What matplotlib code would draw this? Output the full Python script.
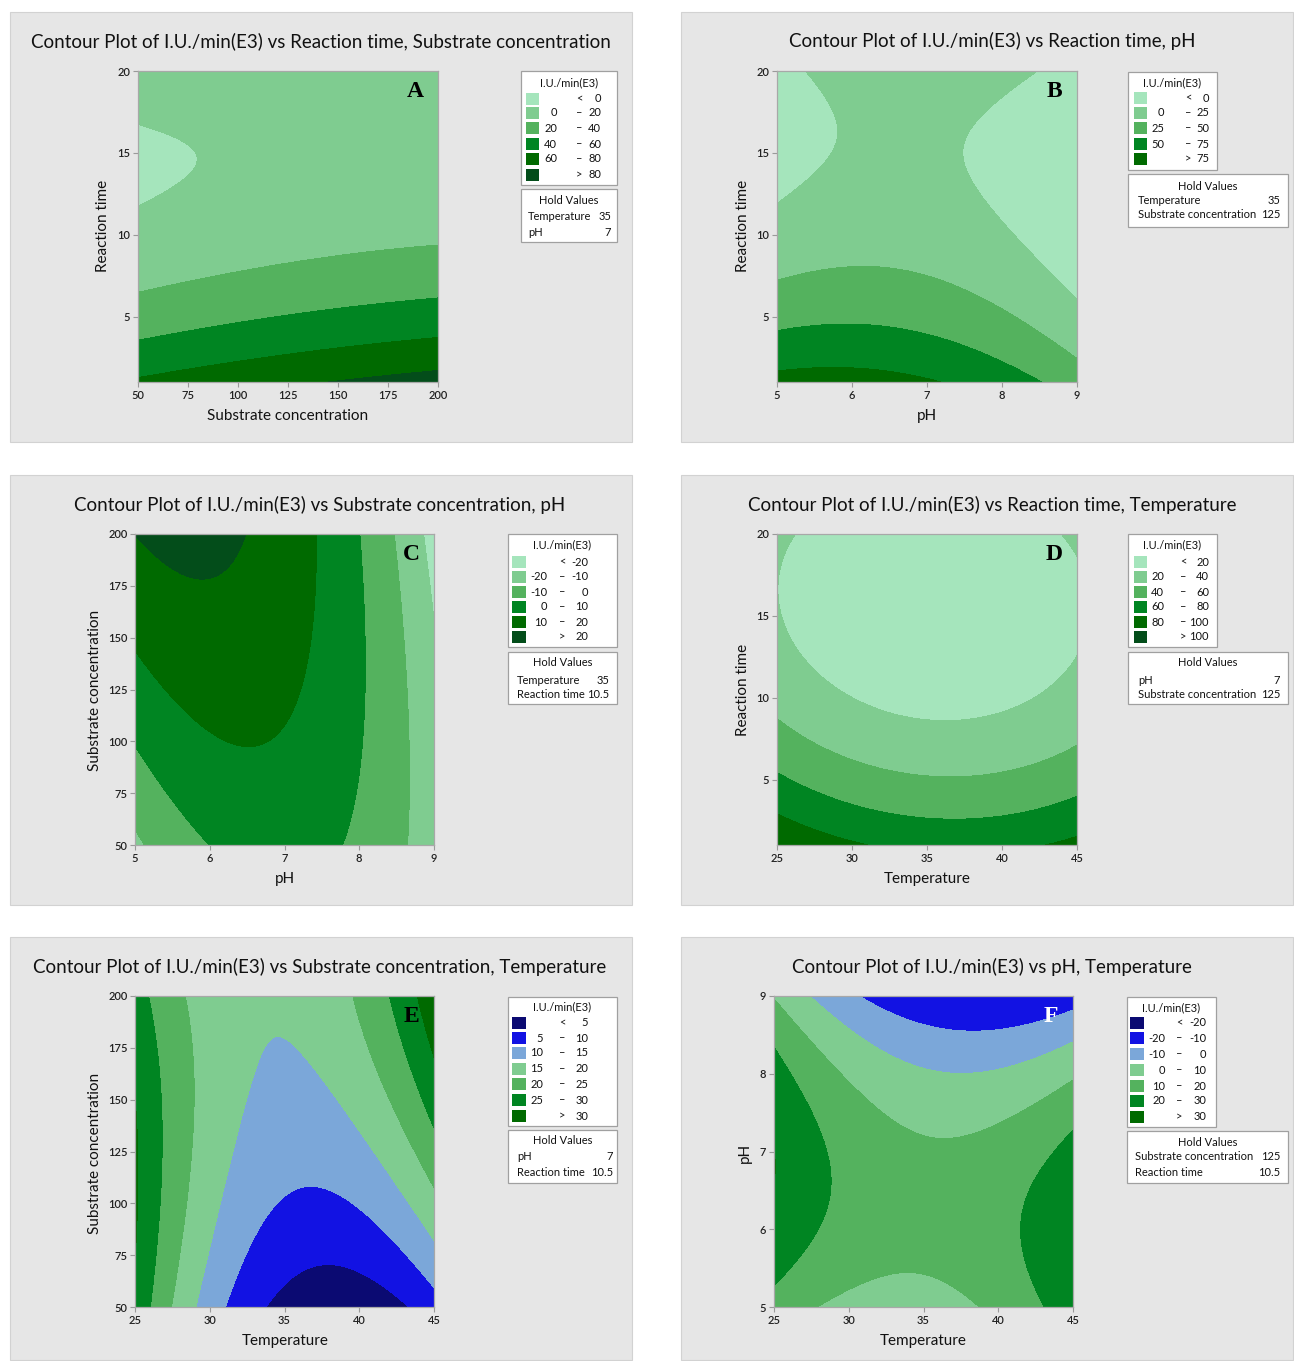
import numpy as np
import matplotlib
matplotlib.use("Agg")
import matplotlib.pyplot as plt
from matplotlib.patches import Rectangle

W, H = 1294, 1361
fig = plt.figure(figsize=(W / 100, H / 100), dpi=100)
plt.rcParams['font.family'] = ['Lato', 'DejaVu Sans']

# ---------------- data ----------------
# Fitted quadratic response surfaces, in coded units
# (u, v in [-1, 1] across each axis):  z = b0 + b1 u + b2 v + b11 u^2 + b22 v^2 + b12 u v
coefA = [10.450, 5.979, -32.867, -1.603, 33.416, -6.569]     # Substrate conc. (x) / Reaction time (y)
coefB = [11.160, -11.878, -33.471, -17.220, 32.593, 10.604]  # pH (x) / Reaction time (y)
coefC = [11.508, -11.989, 6.048, -17.364, -2.075, -9.998]    # pH (x) / Substrate conc. (y)
coefD = [12.311, -3.400, -33.881, 16.400, 28.723, 3.112]     # Temperature (x) / Reaction time (y)
coefE = [11.935, -3.742, 5.998, 14.926, -2.455, 6.841]       # Temperature (x) / Substrate conc. (y)
coefF = [11.402, -3.470, -11.981, 15.226, -17.432, -8.617]   # Temperature (x) / pH (y)

levelsA = [0, 20, 40, 60, 80]
levelsB = [0, 25, 50, 75]
levelsC = [-20, -10, 0, 10, 20]
levelsD = [20, 40, 60, 80, 100]
levelsE = [5, 10, 15, 20, 25, 30]
levelsF = [-20, -10, 0, 10, 20, 30]

G1, G2, G3, G4, G5, G6 = '#a5e5bc', '#7fcc90', '#54b25e', '#008522', '#006a00', '#034d1a'
NAVY, BLUE, LBLUE = '#0b0a72', '#1212e3', '#7ba7d9'


def px(x, y):
    return x / W, 1 - y / H


def ftext(x, y, s, **kw):
    fig.text(x / W, 1 - y / H, s, **kw)


panels = [
    dict(coef=coefA, levels=levelsA, colors=[G1, G2, G3, G4, G5, G6], letter='A', lcol='black',
         rect=(10, 12, 632, 442), ax=(138, 71, 438, 382),
         title='Contour Plot of I.U./min(E3) vs Reaction time, Substrate concentration', tx=321, ty=41,
         xlabel='Substrate concentration', ylabel='Reaction time', xl=(288, 416), yl=(103, 226),
         xlim=(50, 200), ylim=(1, 20), xticks=[50, 75, 100, 125, 150, 175, 200], yticks=[5, 10, 15, 20],
         leg=dict(box=(521, 71, 617, 185), ty=83, rows=[99, 113, 128, 144, 159, 175], sw=(526, 539),
                  low=557, dash=579, high=601),
         hold=dict(box=(521, 189, 617, 242), ty=200, rows=[216, 232], lx=528, rx=611,
                   items=[('Temperature', '35'), ('pH', '7')])),
    dict(coef=coefB, levels=levelsB, colors=[G1, G2, G3, G4, G5], letter='B', lcol='black',
         rect=(681, 12, 1293, 442), ax=(777, 71, 1077, 382),
         title='Contour Plot of I.U./min(E3) vs Reaction time, pH', tx=992, ty=41,
         xlabel='pH', ylabel='Reaction time', xl=(927, 416), yl=(743, 226),
         xlim=(5, 9), ylim=(1, 20), xticks=[5, 6, 7, 8, 9], yticks=[5, 10, 15, 20],
         leg=dict(box=(1128, 72, 1217, 170), ty=83, rows=[98, 113, 128, 144, 159], sw=(1134, 1147),
                  low=1164, dash=1188, high=1209),
         hold=dict(box=(1128, 174, 1288, 227), ty=186, rows=[200, 215], lx=1138, rx=1280,
                   items=[('Temperature', '35'), ('Substrate concentration', '125')])),
    dict(coef=coefC, levels=levelsC, colors=[G1, G2, G3, G4, G5, G6], letter='C', lcol='black',
         rect=(10, 475, 632, 905), ax=(135, 534, 434, 845),
         title='Contour Plot of I.U./min(E3) vs Substrate concentration, pH', tx=320, ty=505,
         xlabel='pH', ylabel='Substrate concentration', xl=(285, 879), yl=(95, 690),
         xlim=(5, 9), ylim=(50, 200), xticks=[5, 6, 7, 8, 9], yticks=[50, 75, 100, 125, 150, 175, 200],
         leg=dict(box=(508, 534, 617, 647), ty=545, rows=[562, 577, 592, 607, 622, 637], sw=(512, 526),
                  low=547, dash=562, high=588),
         hold=dict(box=(508, 652, 617, 704), ty=663, rows=[680, 694], lx=517, rx=609,
                   items=[('Temperature', '35'), ('Reaction time', '10.5')])),
    dict(coef=coefD, levels=levelsD, colors=[G1, G2, G3, G4, G5, G6], letter='D', lcol='black',
         rect=(681, 475, 1293, 905), ax=(777, 534, 1077, 845),
         title='Contour Plot of I.U./min(E3) vs Reaction time, Temperature', tx=992, ty=505,
         xlabel='Temperature', ylabel='Reaction time', xl=(927, 879), yl=(743, 690),
         xlim=(25, 45), ylim=(1, 20), xticks=[25, 30, 35, 40, 45], yticks=[5, 10, 15, 20],
         leg=dict(box=(1128, 534, 1217, 647), ty=545, rows=[562, 577, 592, 607, 622, 637], sw=(1134, 1147),
                  low=1164, dash=1183, high=1209),
         hold=dict(box=(1128, 652, 1288, 704), ty=663, rows=[680, 695], lx=1138, rx=1280,
                   items=[('pH', '7'), ('Substrate concentration', '125')])),
    dict(coef=coefE, levels=levelsE, colors=[NAVY, BLUE, LBLUE, G2, G3, G4, G5], letter='E', lcol='black',
         rect=(10, 937, 632, 1360), ax=(135, 996, 434, 1307),
         title='Contour Plot of I.U./min(E3) vs Substrate concentration, Temperature', tx=320, ty=967,
         xlabel='Temperature', ylabel='Substrate concentration', xl=(285, 1341), yl=(95, 1153),
         xlim=(25, 45), ylim=(50, 200), xticks=[25, 30, 35, 40, 45], yticks=[50, 75, 100, 125, 150, 175, 200],
         leg=dict(box=(508, 997, 617, 1126), ty=1007, rows=[1023, 1038, 1053, 1069, 1084, 1100, 1116],
                  sw=(512, 526), low=543, dash=562, high=588),
         hold=dict(box=(508, 1130, 617, 1183), ty=1141, rows=[1157, 1173], lx=517, rx=613,
                   items=[('pH', '7'), ('Reaction time', '10.5')])),
    dict(coef=coefF, levels=levelsF, colors=[NAVY, BLUE, LBLUE, G2, G3, G4, G5], letter='F', lcol='white',
         rect=(681, 937, 1293, 1360), ax=(774, 996, 1073, 1307),
         title='Contour Plot of I.U./min(E3) vs pH, Temperature', tx=992, ty=967,
         xlabel='Temperature', ylabel='pH', xl=(923, 1341), yl=(745, 1153),
         xlim=(25, 45), ylim=(5, 9), xticks=[25, 30, 35, 40, 45], yticks=[5, 6, 7, 8, 9],
         leg=dict(box=(1127, 997, 1216, 1127), ty=1008, rows=[1023, 1038, 1054, 1070, 1086, 1101, 1117],
                  sw=(1130, 1144), low=1165, dash=1179, high=1206),
         hold=dict(box=(1127, 1131, 1288, 1183), ty=1143, rows=[1157, 1172], lx=1135, rx=1280,
                   items=[('Substrate concentration', '125'), ('Reaction time', '10.5')])),
]

TXT = '#111111'
FS = 8.0
for p in panels:
    x0, y0, x1, y1 = p['rect']
    fig.patches.append(Rectangle(px(x0, y1), (x1 - x0) / W, (y1 - y0) / H, transform=fig.transFigure,
                                 facecolor='#e6e6e6', edgecolor='#d2d2d2', lw=0.8, zorder=-5))
    ftext(p['tx'], p['ty'], p['title'], ha='center', va='center', fontsize=13.5, color=TXT)
    a0, b0, a1, b1 = p['ax']
    ax = fig.add_axes([a0 / W, 1 - b1 / H, (a1 - a0) / W, (b1 - b0) / H])
    ax.set_zorder(2)
    c = p['coef']
    uu, vv = np.meshgrid(np.linspace(-1, 1, 301), np.linspace(-1, 1, 301))
    zz = c[0] + c[1] * uu + c[2] * vv + c[3] * uu ** 2 + c[4] * vv ** 2 + c[5] * uu * vv
    xm, xh = (p['xlim'][0] + p['xlim'][1]) / 2, (p['xlim'][1] - p['xlim'][0]) / 2
    ym, yh = (p['ylim'][0] + p['ylim'][1]) / 2, (p['ylim'][1] - p['ylim'][0]) / 2
    ax.contourf(xm + xh * uu, ym + yh * vv, zz, levels=[-1e6] + p['levels'] + [1e6], colors=p['colors'])
    ax.set_xlim(p['xlim'])
    ax.set_ylim(p['ylim'])
    ax.set_xticks(p['xticks'])
    ax.set_yticks(p['yticks'])
    ax.tick_params(length=3.5, width=0.8, color='#9a9a9a', labelsize=8, labelcolor='#222222', pad=2)
    for lab in ax.get_xticklabels() + ax.get_yticklabels():
        lab.set_fontweight('semibold')
    for s in ax.spines.values():
        s.set_color('#a8a8a8')
        s.set_linewidth(0.9)
    ax.text(0.925, 0.935, p['letter'], transform=ax.transAxes, ha='center', va='center',
            fontsize=17, fontweight='bold', family='Liberation Serif', color=p['lcol'])
    ftext(*p['xl'], p['xlabel'], ha='center', va='center', fontsize=11, color=TXT)
    ftext(*p['yl'], p['ylabel'], ha='center', va='center', fontsize=11, color=TXT, rotation=90)
    # legend
    lg = p['leg']
    bx0, by0, bx1, by1 = lg['box']
    fig.patches.append(Rectangle(px(bx0, by1), (bx1 - bx0) / W, (by1 - by0) / H, transform=fig.transFigure,
                                 facecolor='white', edgecolor='#a0a0a0', lw=0.9, zorder=1))
    ftext((bx0 + bx1) / 2, lg['ty'], 'I.U./min(E3)', ha='center', va='center', fontsize=FS, color=TXT)
    L = p['levels']
    for i, (ry, col) in enumerate(zip(lg['rows'], p['colors'])):
        sx0, sx1 = lg['sw']
        fig.patches.append(Rectangle(px(sx0, ry + 6), (sx1 - sx0) / W, 12 / H, transform=fig.transFigure,
                                     facecolor=col, edgecolor='none', zorder=2))
        if i == 0:
            ftext(lg['dash'], ry, '<', ha='center', va='center', fontsize=FS, color=TXT)
            ftext(lg['high'], ry, str(L[0]), ha='right', va='center', fontsize=FS, color=TXT)
        elif i == len(L):
            ftext(lg['dash'], ry, '>', ha='center', va='center', fontsize=FS, color=TXT)
            ftext(lg['high'], ry, str(L[-1]), ha='right', va='center', fontsize=FS, color=TXT)
        else:
            ftext(lg['low'], ry, str(L[i - 1]), ha='right', va='center', fontsize=FS, color=TXT)
            ftext(lg['dash'], ry, '\u2013', ha='center', va='center', fontsize=FS, color=TXT)
            ftext(lg['high'], ry, str(L[i]), ha='right', va='center', fontsize=FS, color=TXT)
    hd = p['hold']
    bx0, by0, bx1, by1 = hd['box']
    fig.patches.append(Rectangle(px(bx0, by1), (bx1 - bx0) / W, (by1 - by0) / H, transform=fig.transFigure,
                                 facecolor='white', edgecolor='#a0a0a0', lw=0.9, zorder=1))
    ftext((bx0 + bx1) / 2, hd['ty'], 'Hold Values', ha='center', va='center', fontsize=FS, color=TXT)
    for (lab, val), ry in zip(hd['items'], hd['rows']):
        ftext(hd['lx'], ry, lab, ha='left', va='center', fontsize=FS, color=TXT)
        ftext(hd['rx'], ry, val, ha='right', va='center', fontsize=FS, color=TXT)

fig.savefig('out.png', dpi=100, facecolor='white')
